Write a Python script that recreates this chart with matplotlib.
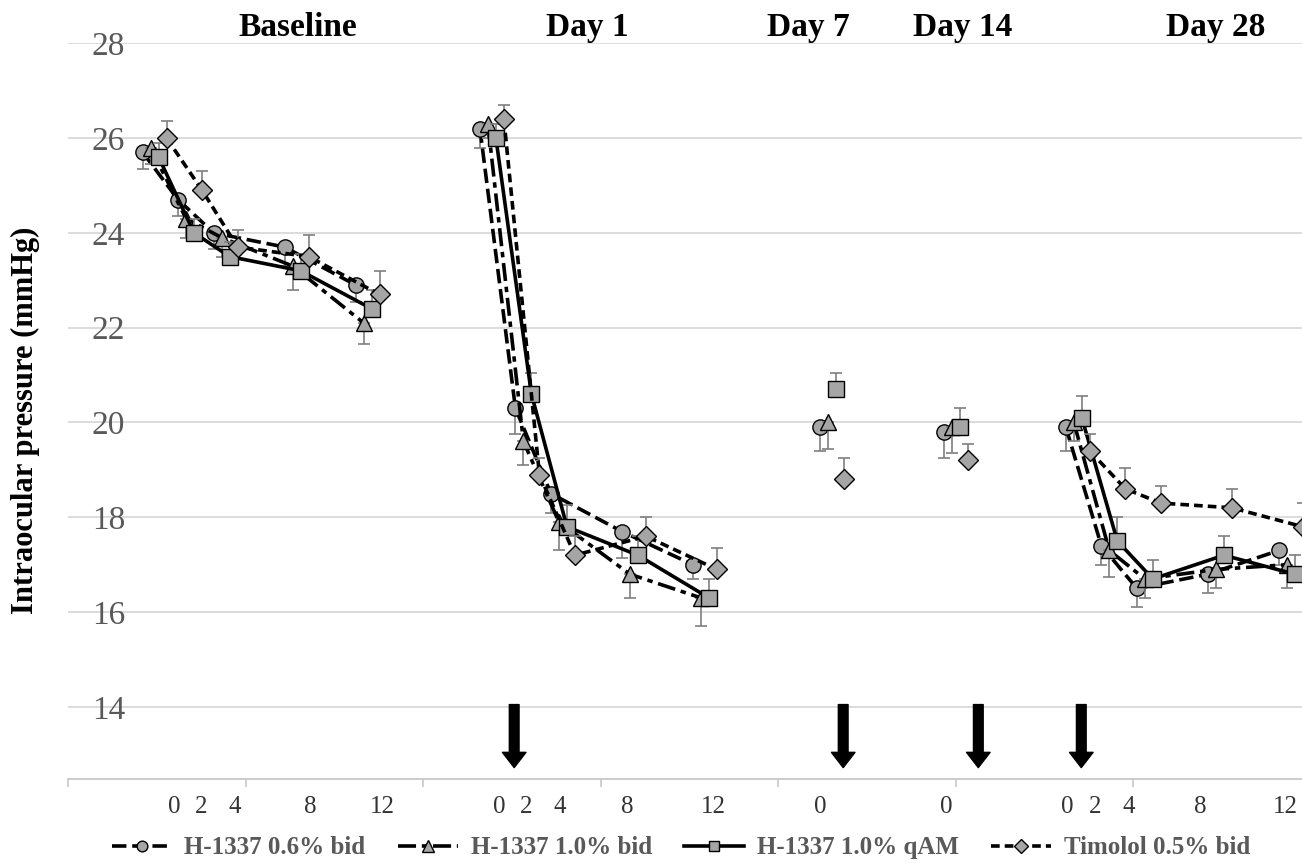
import matplotlib
matplotlib.use('Agg')
import matplotlib.pyplot as plt
import matplotlib.transforms as mtransforms

plt.rcParams['font.family'] = 'Liberation Serif'

# time points (hours after dosing) inside each visit
groups = ['Baseline', 'Day 1', 'Day 7', 'Day 14', 'Day 28']
group_hours = [[0, 2, 4, 8, 12], [0, 2, 4, 8, 12], [0], [0], [0, 2, 4, 8, 12]]

# mean IOP (mmHg), visits concatenated in the order above
iop_06_bid = [25.7, 24.7, 24.0, 23.7, 22.9,
              26.2, 20.3, 18.5, 17.7, 17.0,
              19.9, 19.8,
              19.9, 17.4, 16.5, 16.8, 17.3]
iop_10_bid = [25.8, 24.3, 23.9, 23.3, 22.1,
              26.3, 19.6, 17.9, 16.8, 16.3,
              20.0, 19.9,
              20.0, 17.3, 16.7, 16.9, 17.0]
iop_10_qam = [25.6, 24.0, 23.5, 23.2, 22.4,
              26.0, 20.6, 17.8, 17.2, 16.3,
              20.7, 19.9,
              20.1, 17.5, 16.7, 17.2, 16.8]
iop_timolol = [26.0, 24.9, 23.7, 23.5, 22.7,
               26.4, 18.9, 17.2, 17.6, 16.9,
               18.8, 19.2,
               19.4, 18.6, 18.3, 18.2, 17.8]

# standard errors (drawn one-sided like the original)
err_06_bid = [0.35, 0.35, 0.35, 0.4, 0.35, 0.4, 0.55, 0.4, 0.55, 0.3,
              0.5, 0.55, 0.5, 0.4, 0.4, 0.4, 0.3]
err_10_bid = [0.35, 0.4, 0.4, 0.5, 0.45, 0.3, 0.5, 0.6, 0.5, 0.6,
              0.55, 0.55, 0.4, 0.55, 0.4, 0.4, 0.5]
err_10_qam = [0.3, 0.3, 0.3, 0.35, 0.4, 0.3, 0.45, 0.45, 0.4, 0.4,
              0.35, 0.4, 0.45, 0.5, 0.4, 0.4, 0.4]
err_timolol = [0.35, 0.4, 0.35, 0.45, 0.5, 0.3, 0.35, 0.4, 0.4, 0.45,
               0.45, 0.35, 0.35, 0.45, 0.35, 0.4, 0.5]

series_names = ['H-1337 0.6% bid', 'H-1337 1.0% bid', 'H-1337 1.0% qAM', 'Timolol 0.5% bid']
series_vals = [iop_06_bid, iop_10_bid, iop_10_qam, iop_timolol]
series_errs = [err_06_bid, err_10_bid, err_10_qam, err_timolol]

# layout of the horizontal axis
group_start = [4.2, 23.2, 42.35, 49.35, 56.2]
series_shift = [0, 0.45, 0.9, 1.35]
err_side = ['down', 'down', 'up', 'up']
markers = ['o', '^', 's', 'D']
msizes = [11, 12, 11, 10]
styles = [(0, (4, 1.6)), (0, (5, 1.6, 1.5, 1.6)), '-', (0, (2.4, 1.4))]

tick_pos = [5.97, 7.49, 9.41, 13.63, 17.69, 24.28, 25.8, 27.72, 31.49, 36.34,
            42.37, 49.46, 56.28, 57.86, 59.72, 63.75, 68.56]
tick_txt = ['0', '2', '4', '8', '12', '0', '2', '4', '8', '12',
            '0', '0', '0', '2', '4', '8', '12']
title_x = [12.96, 29.24, 41.69, 50.37, 64.62]
arrow_x = [25.13, 43.66, 51.27, 57.07]

fig = plt.figure(figsize=(13.02, 8.66), dpi=100)
ax = fig.add_axes([68 / 1302, 1 - 779 / 866, 1 - 68 / 1302, (779 - 43.2) / 866])
ax.set_xlim(0, 69.5)
ax.set_ylim(12.48, 28)

handles = []
for i in range(4):
    k = 0
    for g in range(len(groups)):
        hrs = group_hours[g]
        xs = [group_start[g] + h + series_shift[i] for h in hrs]
        ys = series_vals[i][k:k + len(hrs)]
        es = series_errs[i][k:k + len(hrs)]
        k += len(hrs)
        zero = [0] * len(es)
        yerr = [es, zero] if err_side[i] == 'down' else [zero, es]
        ax.errorbar(xs, ys, yerr=yerr, fmt='none', ecolor='#7f7f7f',
                    elinewidth=1.2, capsize=4, capthick=1.2, zorder=2 + 2 * i)
        ln, = ax.plot(xs, ys, color='black', lw=2.6, linestyle=styles[i],
                      marker=markers[i], ms=msizes[i], mfc='#a5a5a5', mec='black',
                      mew=1.0, zorder=3 + 2 * i,
                      label=series_names[i] if g == 0 else None)
        if g == 0:
            handles.append(ln)

# grid and axes
ax.set_yticks(range(14, 29, 2))
ax.yaxis.grid(True, color='#d9d9d9', lw=1.3)
ax.set_axisbelow(True)
for s in ['top', 'left', 'right']:
    ax.spines[s].set_visible(False)
ax.spines['bottom'].set_color('#c8c8c8')
ax.spines['bottom'].set_linewidth(1.3)
ax.tick_params(axis='y', length=0, pad=-41, labelsize=24, labelcolor='#595959')

ax.set_xticks(tick_pos)
ax.set_xticklabels(tick_txt)
ax.set_xticks(range(0, 70, 10), minor=True)
ax.tick_params(axis='x', which='major', length=0, pad=12, labelsize=18, labelcolor='#333333')
ax.tick_params(axis='x', which='minor', length=6, width=1.2, color='#c8c8c8')

ax.set_ylabel('Intraocular pressure (mmHg)', fontsize=22, fontweight='bold')
ax.yaxis.set_label_coords(-0.023, 0.488)

trans = mtransforms.blended_transform_factory(ax.transData, ax.transAxes)
for name, x in zip(groups, title_x):
    ax.text(x, 1.022, name, transform=trans, ha='center', va='center',
            fontsize=24, fontweight='bold', clip_on=False)

for x in arrow_x:
    ax.annotate('', xy=(x, 12.72), xytext=(x, 14.05),
                arrowprops=dict(facecolor='black', edgecolor='black',
                                width=7, headwidth=17, headlength=11, shrink=0))

fig.legend(handles=handles, loc='center', bbox_to_anchor=(0.523, 0.021), ncol=4,
           frameon=False, handlelength=2.4, columnspacing=1.3, handletextpad=0.5,
           markerscale=0.7,
           prop={'family': 'Liberation Serif', 'weight': 'bold', 'size': 18},
           labelcolor='#595959')

fig.savefig('out.png', dpi=100)
